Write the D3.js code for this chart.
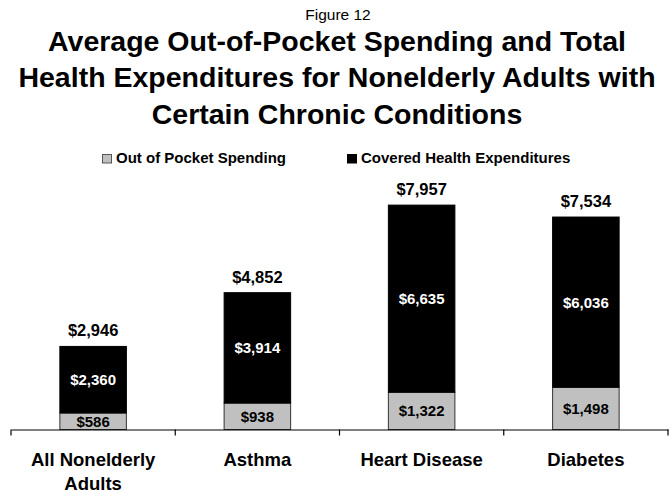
<!DOCTYPE html>
<html>
<head>
<meta charset="utf-8">
<script src="https://cdn.jsdelivr.net/npm/d3@7/dist/d3.min.js"></script>
<style>
  html, body { margin: 0; padding: 0; background: #fff; }
  svg { display: block; font-family: "Liberation Sans", Arial, sans-serif; }
</style>
</head>
<body>
<svg id="chart" width="670" height="492"></svg>
<script>
const categories = ["All Nonelderly Adults", "Asthma", "Heart Disease", "Diabetes"];
const outOfPocket = [586, 938, 1322, 1498];
const covered = [2360, 3914, 6635, 6036];
const totals = [2946, 4852, 7957, 7534];
const seriesNames = ["Out of Pocket Spending", "Covered Health Expenditures"];
const figureLabel = "Figure 12";
const titleLines = [
  "Average Out-of-Pocket Spending and Total",
  "Health Expenditures for Nonelderly Adults with",
  "Certain Chronic Conditions"
];

const svg = d3.select("#chart");
const W = 670;
const fmt = d => "$" + d3.format(",")(d);

// Titles
svg.append("text").attr("x", W / 2 + 3).attr("y", 20)
  .attr("text-anchor", "middle").attr("font-size", 15.5).text(figureLabel);
svg.selectAll("text.title").data(titleLines).enter().append("text")
  .attr("class", "title")
  .attr("x", W / 2 + 2)
  .attr("y", (d, i) => 50.5 + i * 36.5)
  .attr("text-anchor", "middle")
  .attr("font-size", 28.5).attr("font-weight", "bold")
  .text(d => d);

// Scales
const x = d3.scaleBand().domain(categories).range([11, 668]).padding(0);
const y = d3.scaleLinear().domain([0, 8000]).range([429.5, 429.5 - 0.0282 * 8000]);
const barW = x.bandwidth() * 0.405;
const colors = ["#c0c0c0", "#000000"];

const data = categories.map((c, i) => ({
  cat: c, oop: outOfPocket[i], cov: covered[i], total: totals[i]
}));

const stack = d3.stack().keys(["oop", "cov"]);
const layers = stack(data);

const g = svg.append("g");
layers.forEach((layer, li) => {
  g.selectAll(null).data(layer).enter().append("rect")
    .attr("x", d => x(d.data.cat) + (x.bandwidth() - barW) / 2)
    .attr("width", barW)
    .attr("y", d => y(d[1]))
    .attr("height", d => y(d[0]) - y(d[1]))
    .attr("fill", colors[li])
    .attr("stroke", li === 0 ? "#333" : "#000")
    .attr("stroke-width", 1);
  g.selectAll(null).data(layer).enter().append("text")
    .attr("x", d => x(d.data.cat) + x.bandwidth() / 2)
    .attr("y", d => (y(d[0]) + y(d[1])) / 2)
    .attr("dy", "0.36em")
    .attr("text-anchor", "middle")
    .attr("font-size", 15).attr("font-weight", "bold")
    .attr("fill", li === 0 ? "#000" : "#fff")
    .text(d => fmt(d[1] - d[0]));
});

// Totals
g.selectAll(null).data(data).enter().append("text")
  .attr("x", d => x(d.cat) + x.bandwidth() / 2)
  .attr("y", d => y(d.total) - 10)
  .attr("text-anchor", "middle")
  .attr("font-size", 16.5).attr("font-weight", "bold")
  .text(d => fmt(d.total));

// Axis
const axisY = y(0);
const axis = d3.axisBottom(x).tickSize(0).tickFormat("");
const ag = svg.append("g").attr("transform", `translate(0,${axisY})`).call(axis);
ag.select(".domain").attr("stroke", "#000").attr("stroke-width", 1.2);
const bounds = categories.map(c => x(c)).concat([x.range()[1]]);
svg.selectAll(null).data(bounds).enter().append("line")
  .attr("x1", d => d).attr("x2", d => d)
  .attr("y1", axisY).attr("y2", axisY + 6)
  .attr("stroke", "#000").attr("stroke-width", 1.2);

// Category labels with wrapping
const catText = svg.selectAll(null).data(categories).enter().append("text")
  .attr("x", d => x(d) + x.bandwidth() / 2)
  .attr("y", 465.5)
  .attr("text-anchor", "middle")
  .attr("font-size", 18.5).attr("font-weight", "bold");
catText.each(function(d) {
  const t = d3.select(this);
  const words = d.split(" ");
  const maxW = x.bandwidth() - 10;
  let line = [], lines = [];
  const probe = t.append("tspan");
  words.forEach(w => {
    const test = line.concat([w]).join(" ");
    probe.text(test);
    if (probe.node().getComputedTextLength() > maxW && line.length) {
      lines.push(line.join(" "));
      line = [w];
    } else line.push(w);
  });
  lines.push(line.join(" "));
  probe.remove();
  lines.forEach((l, i) => {
    t.append("tspan").attr("x", x(d) + x.bandwidth() / 2)
      .attr("dy", i === 0 ? 0 : 24).text(l);
  });
});

// Legend
const legendItems = [
  { name: seriesNames[0], color: colors[0], sx: 102, stroke: "#555" },
  { name: seriesNames[1], color: colors[1], sx: 347, stroke: "#000" }
];
const lg = svg.selectAll(null).data(legendItems).enter().append("g");
lg.append("rect").attr("x", d => d.sx + 0.5).attr("y", 154.5)
  .attr("width", 9).attr("height", 8.5)
  .attr("fill", d => d.color).attr("stroke", d => d.stroke).attr("stroke-width", 1);
lg.append("text").attr("x", d => d.sx + 14).attr("y", 163.3)
  .attr("font-size", 15).attr("font-weight", "bold")
  .text(d => d.name);
</script>
</body>
</html>
